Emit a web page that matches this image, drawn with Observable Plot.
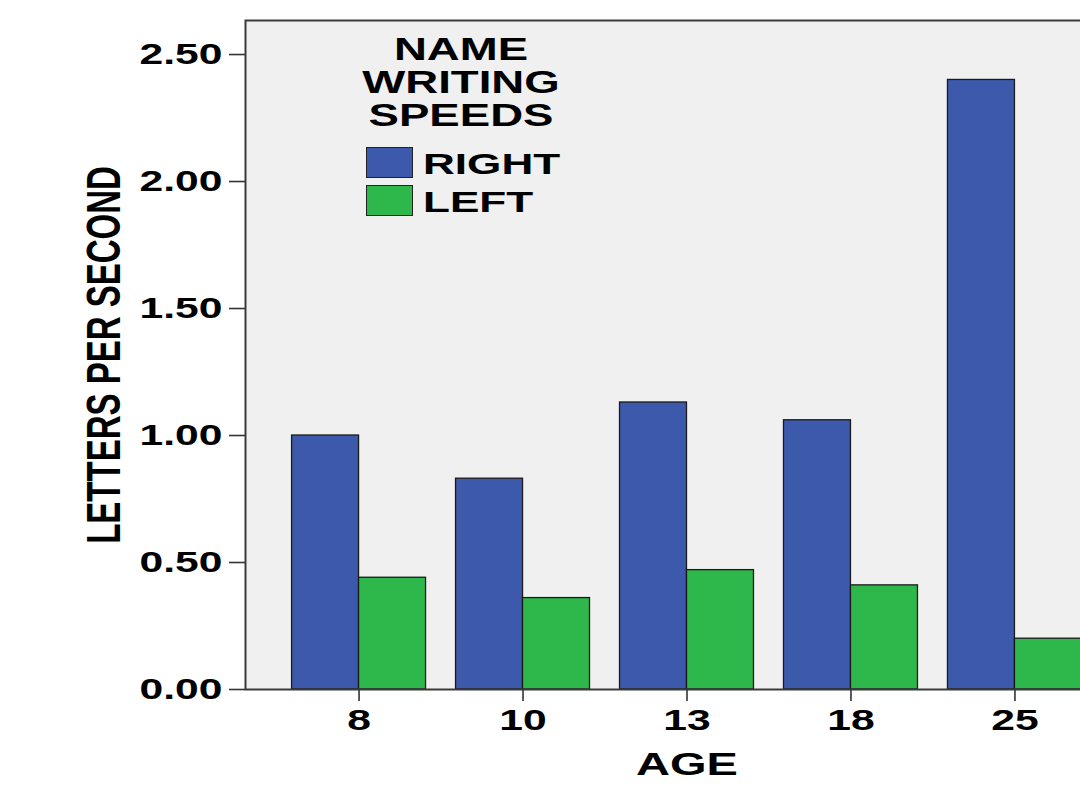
<!DOCTYPE html>
<html><head><meta charset="utf-8">
<script src="https://cdn.jsdelivr.net/npm/d3@7"></script>
<script src="https://cdn.jsdelivr.net/npm/@observablehq/plot@0.6"></script>
<style>
html,body{margin:0;padding:0;background:#fff;overflow:hidden;}
#wrap{position:relative;width:1080px;height:785px;overflow:hidden;font-family:"Liberation Sans",Arial,sans-serif;font-weight:bold;color:#000;}
#wrap svg{display:block;}
.lg-title{position:absolute;left:361px;width:200px;text-align:center;font-size:31px;line-height:33px;transform:scaleX(1.47);transform-origin:center;white-space:nowrap;}
.lg-sw{position:absolute;left:366px;width:45px;height:29px;border:1px solid #222;}
.lg-tx{position:absolute;left:423px;font-size:30px;line-height:33px;transform:scaleX(1.47);transform-origin:left center;white-space:nowrap;}
</style></head><body><div id="wrap"></div>
<script>
const ages = ["8", "10", "13", "18", "25"];
const hands = ["RIGHT", "LEFT"];
const rightValues = [1.00, 0.83, 1.13, 1.06, 2.40];
const leftValues = [0.44, 0.36, 0.47, 0.41, 0.20];
const handColors = ["#3d59ab", "#2eb84b"];
const yTicks = [0, 0.5, 1.0, 1.5, 2.0, 2.5];
const yMax = 2.634;
const legendTitle = ["NAME", "WRITING", "SPEEDS"];
const xLabel = "AGE";
const yLabel = "LETTERS PER SECOND";

const STRETCH = 1.47;

const data = ages.flatMap((a, i) => [
  {age: a, hand: hands[0], v: rightValues[i]},
  {age: a, hand: hands[1], v: leftValues[i]}
]);

function makePlot(bw) {
  return Plot.plot({
    width: 1080,
    height: 785,
    marginTop: 20,
    marginBottom: 96,
    marginLeft: 245,
    marginRight: -48,
    style: {fontFamily: "'Liberation Sans', Arial, sans-serif", fontWeight: "bold", fontSize: "29px", color: "#000", background: "transparent"},
    x: {domain: ages, paddingInner: 0.183, paddingOuter: 0.284, round: false},
    y: {domain: [0, yMax]},
    color: {domain: hands, range: handColors},
    marks: [
      Plot.frame({fill: "#f0f0f0"}),
      Plot.barY(data.filter(d => d.hand === hands[0]), {x: "age", y: "v", fill: "hand", insetRight: bw / 2, stroke: "#1a1a1a", strokeWidth: 1.3}),
      Plot.barY(data.filter(d => d.hand === hands[1]), {x: "age", y: "v", fill: "hand", insetLeft: bw / 2, stroke: "#1a1a1a", strokeWidth: 1.3}),
      Plot.axisY({ticks: yTicks, tickFormat: d3.format(".2f"), tickSize: 16, tickPadding: 7, stroke: "#333", strokeWidth: 1.6, label: null, fontSize: 29}),
      Plot.axisX({tickSize: 12, tickPadding: 8, stroke: "#333", strokeWidth: 1.6, label: null, fontSize: 29}),
      Plot.text([yLabel], {frameAnchor: "left", rotate: -90, textAnchor: "middle", lineAnchor: "middle", dx: -141, fontSize: 33}),
      Plot.text([xLabel], {frameAnchor: "bottom", dy: 85, fontSize: 32}),
      Plot.frame({stroke: "#3a3a3a", strokeWidth: 2})
    ]
  });
}

const probe = makePlot(0);
const bandwidth = probe.scale("x").bandwidth;
const chart = makePlot(bandwidth);

// mimic the horizontally stretched look of the reference text
chart.querySelectorAll("text").forEach(t => {
  const tr = t.getAttribute("transform") || "";
  let pre = "";
  const xa = t.getAttribute("x"), ya = t.getAttribute("y");
  if (xa != null && /^-?[\d.]+$/.test(xa)) { pre += ` translate(${xa},0)`; t.removeAttribute("x"); }
  if (ya != null && /^-?[\d.]+$/.test(ya)) { pre += ` translate(0,${ya})`; t.removeAttribute("y"); }
  const m = tr.match(/^\s*(translate\([^)]*\))(.*)$/);
  if (m) t.setAttribute("transform", `${m[1]}${pre} scale(${STRETCH},1)${m[2]}`);
  else t.setAttribute("transform", `${pre} scale(${STRETCH},1) ${tr}`);
});

const wrap = document.getElementById("wrap");
wrap.appendChild(chart);

// legend (HTML overlay)
legendTitle.forEach((line, i) => {
  const d = document.createElement("div");
  d.className = "lg-title";
  d.style.top = (33 + i * 33) + "px";
  d.textContent = line;
  wrap.appendChild(d);
});
hands.forEach((h, i) => {
  const sw = document.createElement("div");
  sw.className = "lg-sw";
  sw.style.top = (147 + i * 38) + "px";
  sw.style.background = handColors[i];
  wrap.appendChild(sw);
  const tx = document.createElement("div");
  tx.className = "lg-tx";
  tx.style.top = (147 + i * 38) + "px";
  tx.textContent = h;
  wrap.appendChild(tx);
});
</script></body></html>
